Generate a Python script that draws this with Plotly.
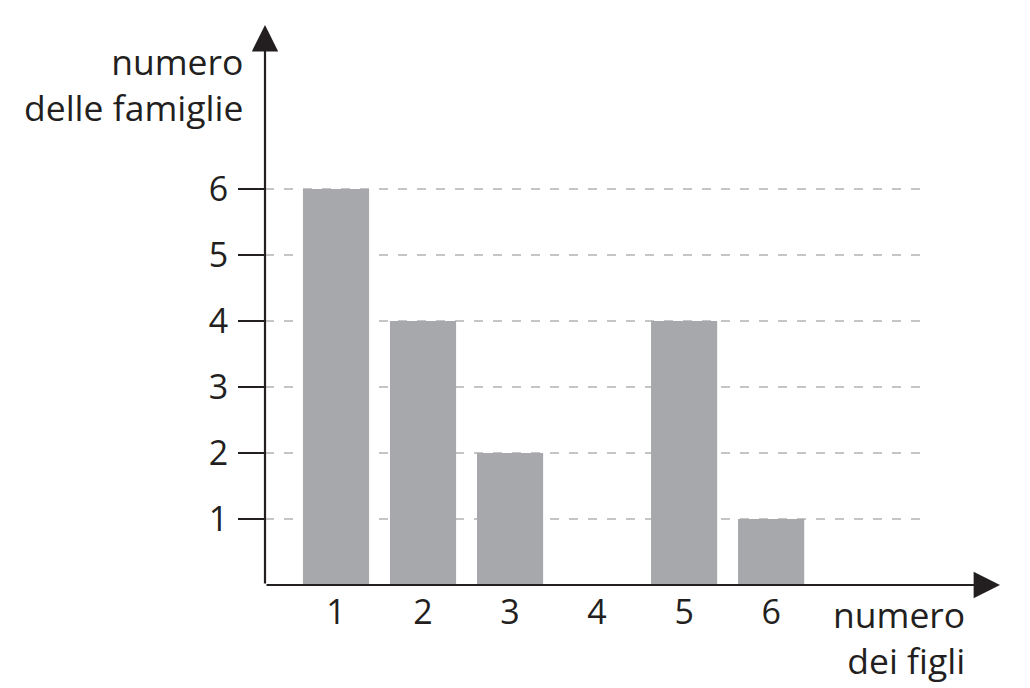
import plotly.graph_objects as go

categories = [1, 2, 3, 4, 5, 6]
families = [6, 4, 2, 0, 4, 1]
y_ticks = [1, 2, 3, 4, 5, 6]
x_tick_labels = ["1", "2", "3", "4", "5", "6"]
y_title = "numero<br>delle famiglie"
x_title = "numero<br>dei figli"

INK = "#231f20"
BAR = "#a7a8ab"
GRID = "#b3b3b3"
FONT = "Open Sans"
FS = 34
TFS = 35.5

X0, X1 = 0.184, 8.63
Y0, Y1 = 0.0, 8.485
GRID_END = 7.71

fig = go.Figure()
fig.add_trace(go.Bar(
    x=categories, y=families, width=0.76,
    marker=dict(color=BAR, line=dict(width=0)),
    hoverinfo="skip",
))

for v in y_ticks:
    fig.add_shape(type="line", xref="x", yref="y", x0=X0, x1=GRID_END, y0=v, y1=v,
                  line=dict(color=GRID, width=1.5, dash="9px,10px"), layer="below")

# axes with arrows
fig.add_annotation(x=X1, y=Y0, ax=X0, ay=Y0, xref="x", yref="y", axref="x", ayref="y",
                   showarrow=True, arrowhead=2, arrowsize=2.4, arrowwidth=2.2,
                   arrowcolor=INK, standoff=0, startstandoff=0, text="")
fig.add_annotation(x=X0, y=Y1, ax=X0, ay=Y0, xref="x", yref="y", axref="x", ayref="y",
                   showarrow=True, arrowhead=2, arrowsize=2.4, arrowwidth=2.2,
                   arrowcolor=INK, standoff=0, startstandoff=0, text="")

fig.add_annotation(text=y_title, xref="paper", yref="paper", x=-0.0272, y=0.895,
                   xanchor="right", yanchor="middle", align="right", showarrow=False,
                   font=dict(family=FONT, size=TFS, color=INK))
fig.add_annotation(text=x_title, xref="paper", yref="paper", x=0.955, y=-0.093,
                   xanchor="right", yanchor="middle", align="right", showarrow=False,
                   font=dict(family=FONT, size=TFS, color=INK))

fig.update_layout(
    width=1022, height=680,
    margin=dict(l=257, r=30, t=17, b=103),
    plot_bgcolor="white", paper_bgcolor="white",
    showlegend=False,
    font=dict(family=FONT, size=FS, color=INK),
    xaxis=dict(range=[X0, X1], tickvals=categories, ticktext=x_tick_labels,
               showgrid=False, zeroline=False, showline=False, ticks="",
               automargin=False,
               ticklabelstandoff=4, tickfont=dict(size=FS, color=INK)),
    yaxis=dict(range=[Y0, Y1], tickvals=y_ticks, showgrid=False, zeroline=False,
               showline=False, ticks="outside", ticklen=26, tickwidth=2, tickcolor=INK,
               automargin=False,
               ticklabelstandoff=3, tickfont=dict(size=FS, color=INK)),
)

fig.write_html("out.html")
